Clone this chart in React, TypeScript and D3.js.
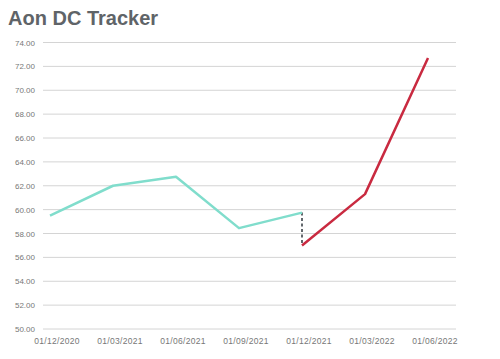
import React from "react";
import * as d3 from "d3";

const dates = ["01/12/2020", "01/03/2021", "01/06/2021", "01/09/2021", "01/12/2021", "01/03/2022", "01/06/2022"];
const tealValues = [59.5, 62.0, 62.75, 58.45, 59.75];
const redValues = [57.0, 61.3, 72.7];
const redStartIndex = 4;
const yTicks = [50, 52, 54, 56, 58, 60, 62, 64, 66, 68, 70, 72, 74];

export default function App() {
  const W = 500, H = 359;
  const x = d3.scalePoint<string>().domain(dates).range([50, 428]);
  const y = d3.scaleLinear().domain([50, 74]).range([329, 42.5]);
  const tealData = tealValues.map((v, i) => ({ d: dates[i], v }));
  const redData = redValues.map((v, i) => ({ d: dates[i + redStartIndex], v }));
  const line = d3.line<{ d: string; v: number }>().x(p => x(p.d)!).y(p => y(p.v));
  const gx = x(dates[redStartIndex])!;
  return (
    <svg width={W} height={H} style={{ position: "absolute", left: 0, top: 0, background: "#fff" }}
      fontFamily="Liberation Sans, Arial, sans-serif">
      <text x={8} y={25} fontSize={20} fontWeight="bold" fill="#5f6468">Aon DC Tracker</text>
      {yTicks.map(t => (
        <g key={t}>
          <line x1={43} x2={456} y1={y(t)} y2={y(t)} stroke="#d4d4d4" strokeWidth={1} />
          <text x={35} y={y(t) + 3} fontSize={8} textAnchor="end" fill="#777">{t.toFixed(2)}</text>
        </g>
      ))}
      {dates.map(d => (
        <text key={d} x={x(d)! + 7} y={344} fontSize={8.5} textAnchor="middle" fill="#777" letterSpacing={0.3}>{d}</text>
      ))}
      <line x1={gx} x2={gx} y1={y(tealValues[tealValues.length - 1])} y2={y(redValues[0])}
        stroke="#62676c" strokeWidth={2} strokeDasharray="3,2.5" />
      <path d={line(tealData)!} fill="none" stroke="#80ddcc" strokeWidth={2.5} strokeLinejoin="round" />
      <path d={line(redData)!} fill="none" stroke="#c92a40" strokeWidth={2.5} strokeLinejoin="round" />
    </svg>
  );
}
